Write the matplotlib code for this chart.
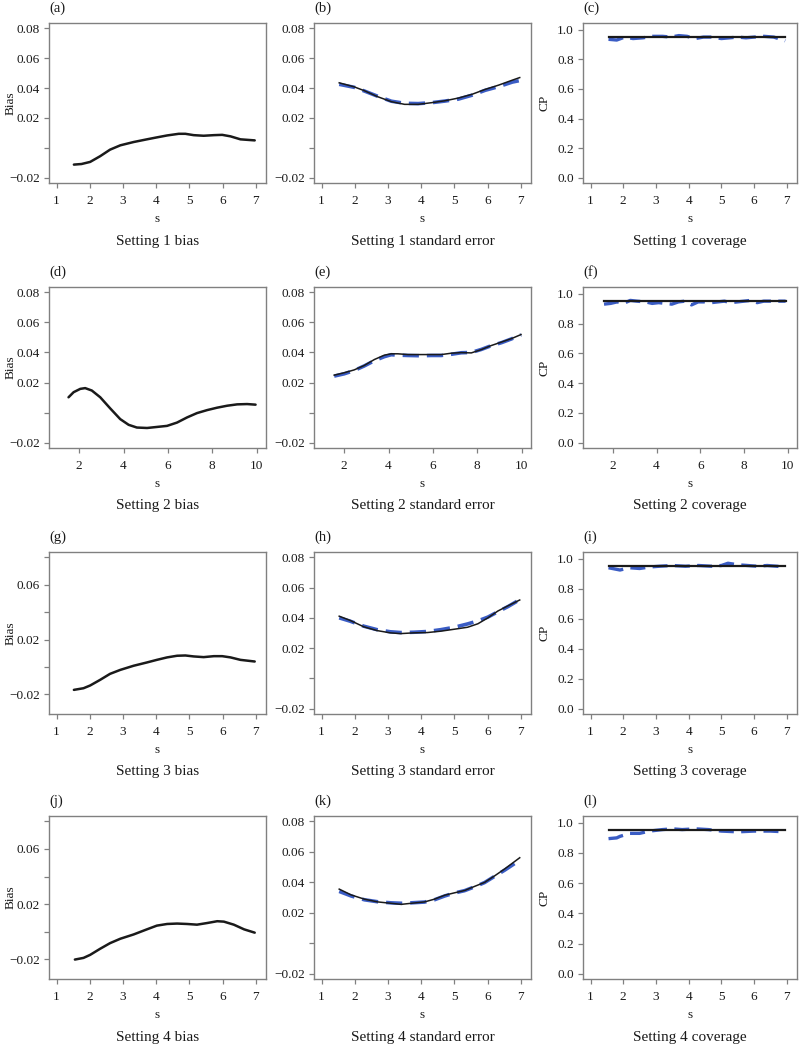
import matplotlib
matplotlib.use("Agg")
import matplotlib.pyplot as plt
from matplotlib.ticker import FixedLocator, FixedFormatter

plt.rcParams['font.family'] = ['Liberation Serif', 'DejaVu Serif']

# ---------------- data ----------------
# Setting 1
s1_bias_x = [1.52, 1.75, 2.01, 2.31, 2.61, 2.92, 3.32, 3.72, 4.02, 4.33, 4.68, 4.88, 5.13, 5.43, 5.74, 5.99, 6.24, 6.54, 6.97]
s1_bias_y = [-0.0112, -0.0108, -0.0094, -0.0056, -0.0012, 0.0017, 0.0039, 0.0057, 0.0070, 0.0083, 0.0094, 0.0094,
             0.0085, 0.0081, 0.0085, 0.0087, 0.0077, 0.0057, 0.0050]
s1_se_x = [1.53, 1.98, 2.29, 2.69, 3.10, 3.50, 3.91, 4.31, 4.72, 5.12, 5.53, 5.93, 6.34, 6.75, 6.97]
s1_se_true = [0.0435, 0.0408, 0.0382, 0.0342, 0.0309, 0.0291, 0.0291, 0.0302, 0.0315, 0.0333, 0.0358, 0.0391, 0.0420, 0.0453, 0.0470]
s1_se_est = [0.0425, 0.0405, 0.0380, 0.0345, 0.0312, 0.0298, 0.0296, 0.0302, 0.0313, 0.0326, 0.0352, 0.0385, 0.0410, 0.0440, 0.0450]
s1_cp_x = [1.55, 1.8, 2.05, 2.3, 2.6, 2.9, 3.2, 3.45, 3.7, 3.95, 4.2, 4.45, 4.7, 5.0, 5.25, 5.5, 5.75, 6.0, 6.3, 6.6, 6.95]
s1_cp_y = [0.935, 0.93, 0.95, 0.94, 0.945, 0.955, 0.955, 0.95, 0.96, 0.955, 0.94, 0.95, 0.95, 0.94, 0.945, 0.95,
           0.945, 0.95, 0.955, 0.95, 0.925]

# Setting 2
s2_bias_x = [1.52, 1.75, 2.05, 2.27, 2.57, 2.95, 3.40, 3.85, 4.23, 4.60, 5.06, 5.51, 5.96, 6.41, 6.86, 7.31,
             7.77, 8.22, 8.67, 9.12, 9.57, 9.95]
s2_bias_y = [0.0102, 0.0136, 0.0158, 0.0163, 0.0147, 0.0102, 0.0028, -0.0043, -0.0081, -0.0099, -0.0102, -0.0095,
             -0.0088, -0.0066, -0.0032, -0.0003, 0.0017, 0.0033, 0.0046, 0.0055, 0.0057, 0.0053]
s2_se_x = [1.55, 2.0, 2.45, 2.9, 3.36, 3.81, 4.12, 4.42, 4.87, 5.47, 5.92, 6.38, 6.83, 7.28, 7.73, 8.18, 8.63, 9.09, 9.54, 9.97]
s2_se_true = [0.0249, 0.0265, 0.0284, 0.0313, 0.0353, 0.0382, 0.0391, 0.0391, 0.0386, 0.0386, 0.0386, 0.0386,
              0.0395, 0.0399, 0.0397, 0.0419, 0.0446, 0.0469, 0.0492, 0.0519]
s2_se_est = [0.0243, 0.0258, 0.0280, 0.0310, 0.0345, 0.0372, 0.0385, 0.0382, 0.0380, 0.0378, 0.0380, 0.0380,
             0.0388, 0.0398, 0.0400, 0.0420, 0.0445, 0.0465, 0.0490, 0.0518]
s2_cp_x = [1.6, 1.9, 2.2, 2.5, 2.8, 3.1, 3.5, 3.8, 4.1, 4.4, 4.7, 5.0, 5.3, 5.6, 5.9, 6.2, 6.5, 6.8, 7.1, 7.4,
           7.7, 8.0, 8.3, 8.6, 8.9, 9.2, 9.5, 9.9]
s2_cp_y = [0.93, 0.935, 0.945, 0.935, 0.955, 0.95, 0.945, 0.935, 0.94, 0.935, 0.93, 0.945, 0.95, 0.925, 0.945,
           0.945, 0.94, 0.945, 0.95, 0.94, 0.945, 0.95, 0.955, 0.94, 0.95, 0.95, 0.95, 0.95]

# Setting 3
s3_bias_x = [1.52, 1.81, 2.01, 2.31, 2.61, 2.92, 3.32, 3.72, 4.02, 4.33, 4.63, 4.88, 5.13, 5.43, 5.74, 5.99, 6.24, 6.54, 6.97]
s3_bias_y = [-0.0167, -0.0155, -0.0135, -0.0094, -0.0050, -0.0021, 0.0009, 0.0033, 0.0052, 0.0070, 0.0082, 0.0084,
             0.0077, 0.0072, 0.0079, 0.0079, 0.0070, 0.0052, 0.0040]
s3_se_x = [1.53, 1.86, 2.27, 2.67, 3.07, 3.38, 3.78, 4.19, 4.59, 5.0, 5.40, 5.71, 6.01, 6.31, 6.62, 6.97]
s3_se_true = [0.0411, 0.0383, 0.0341, 0.0316, 0.0301, 0.0296, 0.0301, 0.0303, 0.0312, 0.0325, 0.0338, 0.0361,
              0.0400, 0.0445, 0.0480, 0.0518]
s3_se_est = [0.0400, 0.0378, 0.0345, 0.0322, 0.0308, 0.0303, 0.0305, 0.0310, 0.0322, 0.0338, 0.0360, 0.0380,
             0.0405, 0.0440, 0.0475, 0.0520]
s3_cp_x = [1.55, 1.9, 2.2, 2.5, 2.8, 3.1, 3.5, 3.9, 4.3, 4.7, 5.0, 5.2, 5.5, 5.8, 6.1, 6.4, 6.7, 6.95]
s3_cp_y = [0.94, 0.925, 0.94, 0.935, 0.945, 0.95, 0.955, 0.95, 0.955, 0.95, 0.955, 0.97, 0.96, 0.955, 0.95,
           0.955, 0.95, 0.945]

# Setting 4
s4_bias_x = [1.55, 1.81, 2.01, 2.31, 2.61, 2.92, 3.32, 3.72, 4.02, 4.33, 4.63, 4.93, 5.23, 5.54, 5.84, 6.04,
             6.34, 6.65, 6.97]
s4_bias_y = [-0.0202, -0.0190, -0.0168, -0.0124, -0.0083, -0.0051, -0.0020, 0.0017, 0.0044, 0.0056, 0.0059,
             0.0056, 0.0051, 0.0063, 0.0076, 0.0073, 0.0051, 0.0017, -0.0007]
s4_se_x = [1.53, 1.89, 2.29, 2.69, 3.09, 3.40, 3.70, 4.10, 4.40, 4.71, 5.01, 5.31, 5.61, 5.91, 6.22, 6.52, 6.97]
s4_se_true = [0.0355, 0.0317, 0.0289, 0.0271, 0.0262, 0.0255, 0.0262, 0.0271, 0.0289, 0.0315, 0.0331, 0.0346,
              0.0373, 0.0399, 0.0443, 0.0488, 0.0561]
s4_se_est = [0.0340, 0.0310, 0.0285, 0.0272, 0.0265, 0.0262, 0.0265, 0.0270, 0.0285, 0.0310, 0.0330, 0.0345,
             0.0370, 0.0398, 0.0440, 0.0480, 0.0545]
s4_cp_x = [1.55, 1.8, 1.9, 2.2, 2.5, 2.8, 3.2, 3.5, 3.8, 4.2, 4.6, 5.0, 5.5, 6.0, 6.5, 6.95]
s4_cp_y = [0.895, 0.9, 0.91, 0.93, 0.93, 0.945, 0.955, 0.96, 0.955, 0.96, 0.955, 0.945, 0.94, 0.945, 0.945, 0.94]

cp_nominal = 0.95

panel_letters = ['(a)', '(b)', '(c)', '(d)', '(e)', '(f)', '(g)', '(h)', '(i)', '(j)', '(k)', '(l)']
captions = ['Setting 1 bias', 'Setting 1 standard error', 'Setting 1 coverage',
            'Setting 2 bias', 'Setting 2 standard error', 'Setting 2 coverage',
            'Setting 3 bias', 'Setting 3 standard error', 'Setting 3 coverage',
            'Setting 4 bias', 'Setting 4 standard error', 'Setting 4 coverage']

x_ticks_7 = [1, 2, 3, 4, 5, 6, 7]
x_ticks_10 = [2, 4, 6, 8, 10]
bias_ticks = [-0.02, 0.0, 0.02, 0.04, 0.06, 0.08]
bias_labels_full = ['\u22120.02', '', '0.02', '0.04', '0.06', '0.08']
bias_labels_sparse = ['\u22120.02', '', '0.02', '', '0.06', '']
cp_ticks = [0.0, 0.2, 0.4, 0.6, 0.8, 1.0]
cp_labels = ['0.0', '0.2', '0.4', '0.6', '0.8', '1.0']

# ---------------- layout ----------------
W, H = 800, 1044
fig = plt.figure(figsize=(W / 100, H / 100), dpi=100)

col_lr = [(49, 266), (314, 531), (583, 797)]
row_tb = [(23, 183), (287, 448), (552, 714), (816, 979)]

GRAY = '#808080'
BLUE = '#3a5cc4'
TXT = '#1a1a1a'


def make_ax(r, c):
    l, rr = col_lr[c]
    t, b = row_tb[r]
    ax = fig.add_axes([l / W, 1 - b / H, (rr - l) / W, (b - t) / H])
    for sp in ax.spines.values():
        sp.set_color(GRAY)
        sp.set_linewidth(1.0)
    ax.tick_params(direction='out', length=3.5, width=0.9, color=GRAY, labelcolor=TXT,
                   labelsize=9.5, pad=3)
    ax.tick_params(axis='x', pad=5)
    return ax, l, rr, t, b


bias_x = [s1_bias_x, s2_bias_x, s3_bias_x, s4_bias_x]
bias_y = [s1_bias_y, s2_bias_y, s3_bias_y, s4_bias_y]
se_x = [s1_se_x, s2_se_x, s3_se_x, s4_se_x]
se_true = [s1_se_true, s2_se_true, s3_se_true, s4_se_true]
se_est = [s1_se_est, s2_se_est, s3_se_est, s4_se_est]
cp_x = [s1_cp_x, s2_cp_x, s3_cp_x, s4_cp_x]
cp_y = [s1_cp_y, s2_cp_y, s3_cp_y, s4_cp_y]

for r in range(4):
    long_x = (r == 1)
    xt = x_ticks_10 if long_x else x_ticks_7
    xlim = (0.64, 10.42) if long_x else (0.77, 7.31)
    for c in range(3):
        ax, l, rr, t, b = make_ax(r, c)
        if c == 0:
            ax.plot(bias_x[r], bias_y[r], color='#1a1a1a', lw=1.8, solid_capstyle='round')
            if r >= 2:
                ax.set_ylim(-0.0343, 0.0839)
                labs = bias_labels_sparse
            else:
                ax.set_ylim(-0.0235, 0.0835)
                labs = bias_labels_full
            ax.yaxis.set_major_locator(FixedLocator(bias_ticks))
            ax.yaxis.set_major_formatter(FixedFormatter(labs))
            ylab = 'Bias'
        elif c == 1:
            ax.plot(se_x[r], se_est[r], color=BLUE, lw=2.6, dashes=(4.5, 2.2))
            ax.plot(se_x[r], se_true[r], color='#1a1a1a', lw=1.1)
            ax.set_ylim(-0.0235, 0.0835)
            ax.yaxis.set_major_locator(FixedLocator(bias_ticks))
            ax.yaxis.set_major_formatter(FixedFormatter(bias_labels_full))
            ylab = None
        else:
            ax.plot(cp_x[r], cp_y[r], color=BLUE, lw=2.4, dashes=(4.5, 2.2))
            ax.plot([cp_x[r][0], cp_x[r][-1]], [cp_nominal, cp_nominal], color='#1a1a1a', lw=1.6)
            ax.set_ylim(-0.035, 1.045)
            ax.yaxis.set_major_locator(FixedLocator(cp_ticks))
            ax.yaxis.set_major_formatter(FixedFormatter(cp_labels))
            ylab = 'CP'
        ax.set_xlim(*xlim)
        ax.xaxis.set_major_locator(FixedLocator(xt))
        ax.xaxis.set_major_formatter(FixedFormatter([str(v) for v in xt]))

        idx = r * 3 + c
        cx = (l + rr) / 2
        fig.text(l / W, 1 - (t - 15) / H, panel_letters[idx], fontsize=10.5, color=TXT,
                 ha='left', va='center')
        fig.text(cx / W, 1 - (b + 36) / H, 's', fontsize=9.5, color=TXT, ha='center', va='center')
        fig.text(cx / W, 1 - (b + 58) / H, captions[idx], fontsize=11, color=TXT,
                 ha='center', va='center')
        if ylab:
            fig.text((l - 38) / W, 1 - ((t + b) / 2) / H, ylab, fontsize=9.5, color=TXT,
                     rotation=90, ha='center', va='center')

fig.savefig('out.png', dpi=100, facecolor='white')
